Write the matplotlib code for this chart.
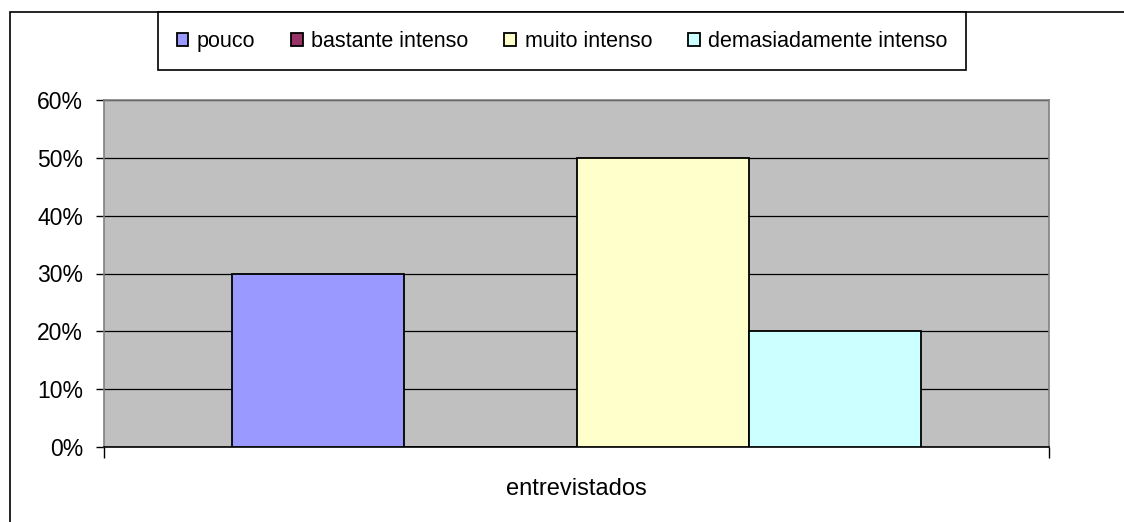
import matplotlib.pyplot as plt
from matplotlib.patches import Rectangle
from matplotlib.ticker import PercentFormatter

plt.rcParams['font.family'] = ['Liberation Sans', 'DejaVu Sans']

# dados
categoria = "entrevistados"
series = ["pouco", "bastante intenso", "muito intenso", "demasiadamente intenso"]
valores = [0.30, 0.0, 0.50, 0.20]
cores = ["#9999FF", "#993366", "#FFFFCC", "#CCFFFF"]
yticks = [0, 0.1, 0.2, 0.3, 0.4, 0.5, 0.6]

fig = plt.figure(figsize=(11.24, 5.22), dpi=100)
ax = fig.add_axes([104 / 1124, 75 / 522, 945 / 1124, 347 / 522])
ax.set_facecolor("#C0C0C0")

w = 172 / 945
for i, (nome, v, c) in enumerate(zip(series, valores, cores)):
    x = 0.5 + (i - 1.5) * w
    ax.bar(x, v, width=w, color=c, edgecolor="black", linewidth=1.3, label=nome, zorder=3)

ax.set_xlim(0, 1)
ax.set_ylim(0, 0.6)
ax.set_yticks(yticks)
ax.yaxis.set_major_formatter(PercentFormatter(1.0, decimals=0))
ax.yaxis.grid(True, color="black", linewidth=0.9, zorder=1)
ax.set_axisbelow(True)
ax.set_xticks([0, 1])
ax.set_xticklabels(["", ""])
ax.tick_params(axis="x", direction="out", length=8, width=1, color="black")
ax.tick_params(axis="y", direction="out", length=6, width=1, color="black", labelsize=16.5, pad=9)
ax.set_xlabel(categoria, fontsize=17, labelpad=11)
for s in ["left", "top", "right"]:
    ax.spines[s].set_color("#808080")
    ax.spines[s].set_linewidth(1.2)
ax.spines["bottom"].set_color("black")
ax.spines["bottom"].set_linewidth(1.2)

# borda externa do gráfico
fig.patches.append(Rectangle((10 / 1124, -0.05), 1.1, 1 - 12 / 522 + 0.05, transform=fig.transFigure,
                             fill=False, edgecolor="black", linewidth=1.2))

leg = fig.legend(loc="upper center", bbox_to_anchor=(0.5, 1 - 12 / 522), ncol=4, fontsize=15.5,
                 frameon=True, fancybox=False, shadow=False, framealpha=1, edgecolor="black",
                 handlelength=0.55, handleheight=0.55, handletextpad=0.4, columnspacing=1.65,
                 borderpad=0.87, borderaxespad=0)
leg.get_frame().set_linewidth(1.2)

fig.savefig("out.png", dpi=100)
